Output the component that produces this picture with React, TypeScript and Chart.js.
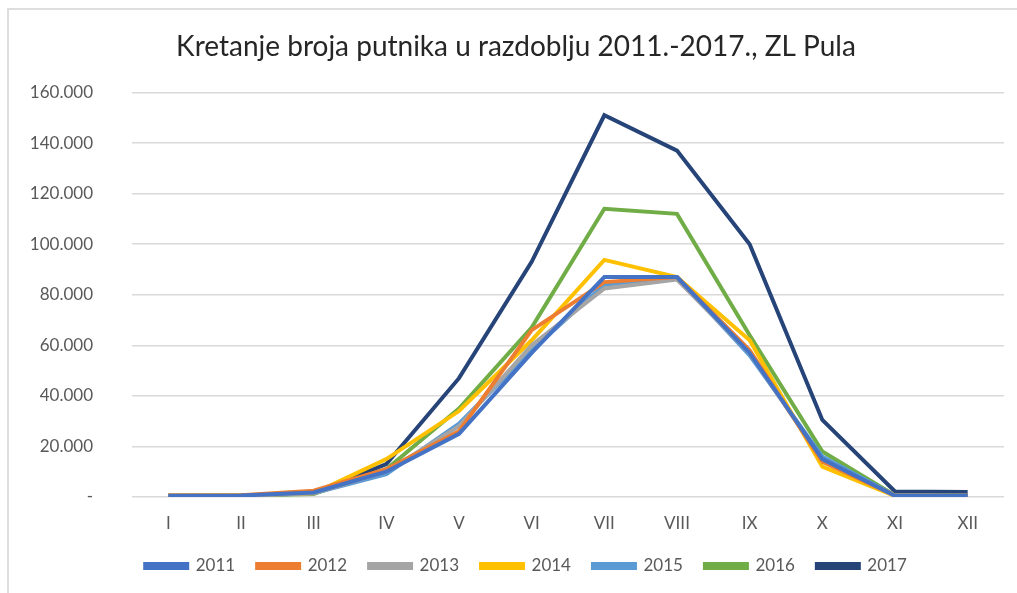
import React, { useEffect, useRef } from "react";
import { Chart, registerables } from "chart.js";

Chart.register(...registerables);

const months = ["I", "II", "III", "IV", "V", "VI", "VII", "VIII", "IX", "X", "XI", "XII"];
const years = ["2011", "2012", "2013", "2014", "2015", "2016", "2017"];
const colors = ["#4472C4", "#ED7D31", "#A5A5A5", "#FFC000", "#5B9BD5", "#70AD47", "#264478"];

const v2011 = [500, 600, 1800, 10000, 25000, 57000, 87000, 87000, 57000, 15000, 500, 500];
const v2012 = [600, 700, 2500, 11000, 26000, 66000, 85000, 87000, 58000, 14000, 600, 500];
const v2013 = [500, 600, 1500, 10000, 28000, 60000, 82500, 86000, 57000, 14500, 500, 500];
const v2014 = [600, 700, 1500, 15000, 34000, 62000, 93800, 87000, 62000, 12000, 400, 400];
const v2015 = [500, 600, 1500, 9000, 29000, 58000, 84000, 87000, 56000, 16000, 500, 500];
const v2016 = [500, 600, 1200, 11000, 35000, 67000, 114000, 112000, 64000, 18000, 600, 600];
const v2017 = [400, 500, 1500, 13000, 47000, 93000, 151000, 137000, 100000, 30500, 2200, 2000];

const series = [v2011, v2012, v2013, v2014, v2015, v2016, v2017];

const yMax = 160000;
const yStep = 20000;

const FONT = "Lato, 'Open Sans', sans-serif";

function fmt(v: number): string {
  if (v === 0) return "-";
  return String(Math.round(v / 1000)) + ".000";
}

const shiftLegend = {
  id: "shiftLegend",
  afterLayout(chart: any) {
    const lg = chart.legend;
    if (lg) {
      lg.left += 10;
      lg.right += 10;
    }
  },
};

export default function App() {
  const ref = useRef<HTMLCanvasElement | null>(null);

  useEffect(() => {
    if (!ref.current) return;
    const chart = new Chart(ref.current, {
      type: "line",
      data: {
        labels: months,
        datasets: years.map((y, i) => ({
          label: y,
          data: series[i],
          borderColor: colors[i],
          backgroundColor: colors[i],
          borderWidth: 4,
          pointRadius: 0,
          tension: 0,
          fill: false,
        })),
      },
      plugins: [shiftLegend],
      options: {
        responsive: false,
        animation: false,
        layout: { padding: { left: 28, right: 13, top: 0, bottom: 17.5 } },
        plugins: {
          title: {
            display: true,
            text: "Kretanje broja putnika u razdoblju 2011.-2017., ZL Pula",
            color: "#262626",
            font: { family: FONT, size: 28, weight: "normal" },
            padding: { top: 30.2, bottom: 28.7 },
          },
          legend: {
            position: "bottom",
            maxHeight: 40,
            labels: {
              boxWidth: 42,
              boxHeight: 4,
              padding: 22,
              color: "#595959",
              font: { family: FONT, size: 17 },
            },
          },
          tooltip: { enabled: false },
        },
        scales: {
          x: {
            offset: true,
            grid: { display: false, drawTicks: false },
            border: { display: false },
            ticks: {
              color: "#595959",
              font: { family: FONT, size: 17 },
              padding: 16,
              maxRotation: 0,
              autoSkip: false,
            },
            afterFit: (s: any) => {
              s.height = 38.5;
            },
          },
          y: {
            min: 0,
            max: yMax,
            grid: { color: "#d9d9d9", lineWidth: 1.5, drawTicks: false },
            border: { display: false },
            ticks: {
              stepSize: yStep,
              color: "#595959",
              font: { family: FONT, size: 17 },
              padding: 39,
              callback: (v: any) => fmt(Number(v)),
            },
            afterFit: (s: any) => {
              s.width = 104;
            },
          },
        },
      },
    });
    return () => chart.destroy();
  }, []);

  return (
    <div style={{ position: "absolute", left: 0, top: 0, width: 1017, height: 593, background: "#fff", overflow: "hidden" }}>
      <div
        style={{
          position: "absolute",
          left: 7,
          top: 8,
          width: 1020,
          height: 600,
          borderLeft: "2px solid #dedede",
          borderTop: "2px solid #dedede",
        }}
      />
      <canvas ref={ref} width={1017} height={593} style={{ position: "absolute", left: 0, top: 0 }} />
    </div>
  );
}
